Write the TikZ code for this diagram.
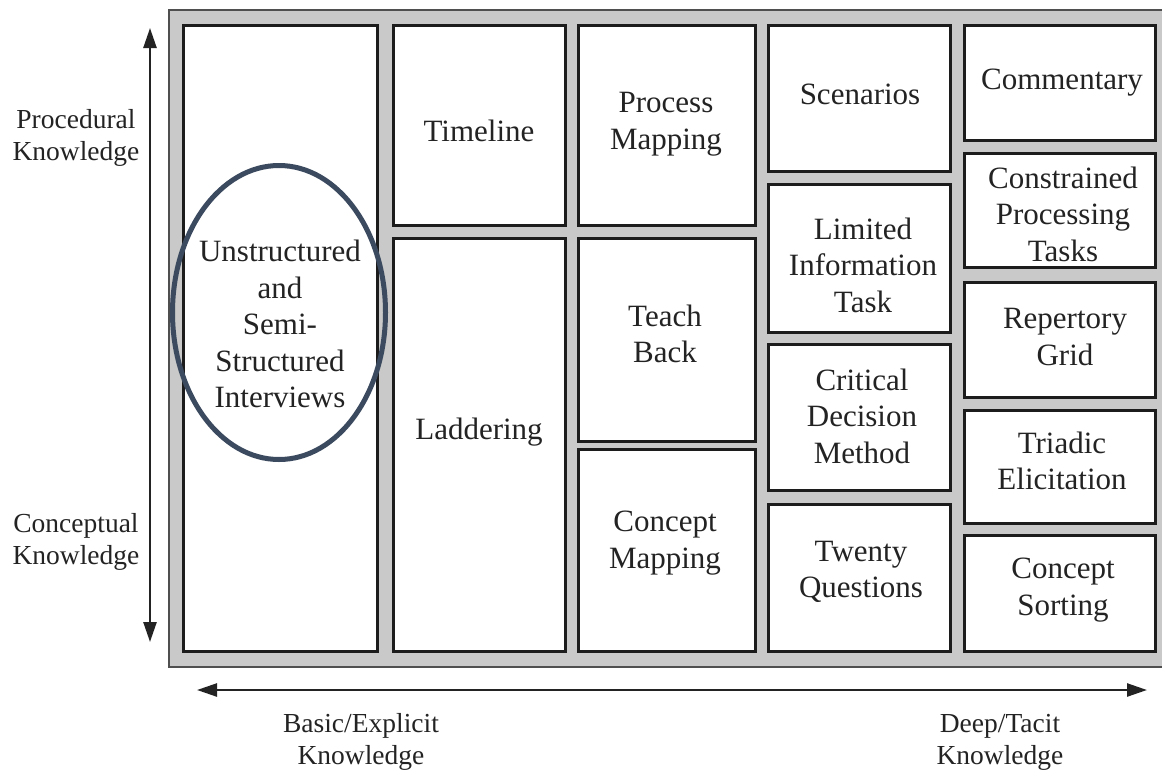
\documentclass[tikz,border=0pt]{standalone}
\usepackage{fontspec}
\setmainfont{Liberation Serif}
\usetikzlibrary{arrows.meta,shapes.geometric}
\definecolor{gbg}{RGB}{200,201,200}
\definecolor{bdr}{RGB}{28,28,28}
\definecolor{ink}{RGB}{35,35,35}
\definecolor{ell}{RGB}{60,74,96}
\tikzset{
  boxst/.style={draw=bdr, line width=3pt, fill=white, inner sep=0pt, rectangle},
  lbl/.style={font=\fontsize{31}{36.5}\selectfont, align=center, text=ink, inner sep=0pt},
  side/.style={font=\fontsize{27.5}{32}\selectfont, align=center, text=ink, inner sep=0pt},
  axis/.style={draw=ink, line width=2.5pt, {Triangle[length=20pt,width=13pt]}-{Triangle[length=20pt,width=13pt]}},
  ring/.style={draw=ell, line width=5pt, ellipse, inner sep=0pt, minimum width=213pt, minimum height=294pt}
}
\newcommand\bx[5]{%
  \node[boxst, minimum width={#4pt-#2pt-3pt}, minimum height={#5pt-#3pt-3pt}] (#1) at ({(#2+#4)/2},{(#3+#5)/2}) {};}
\begin{document}
\begin{tikzpicture}[x=1pt,y=-1pt]
\useasboundingbox (0,0) rectangle (1162,769);
% gray frame
\fill[gbg] (169,10) rectangle (1162,667);
\draw[draw=ink!80, line width=1.5pt] (1162,10) -- (169,10) -- (169,667) -- (1162,667);
% column 1
\bx{c1}{182}{24}{379}{653}
% column 2
\bx{c2a}{392}{24}{567}{227}
\bx{c2b}{392}{237}{567}{653}
% column 3
\bx{c3a}{577}{24}{757}{227}
\bx{c3b}{577}{237}{757}{443}
\bx{c3c}{577}{448}{757}{653}
% column 4
\bx{c4a}{767}{24}{952}{173}
\bx{c4b}{767}{183}{952}{334}
\bx{c4c}{767}{343}{952}{492}
\bx{c4d}{767}{503}{952}{653}
% column 5
\bx{c5a}{963}{24}{1157}{142}
\bx{c5b}{963}{152}{1157}{269}
\bx{c5c}{963}{281}{1157}{399}
\bx{c5d}{963}{409}{1157}{525}
\bx{c5e}{963}{534}{1157}{653}
% labels
\node[lbl] (t1) at (280,324) {Unstructured\\and\\Semi-\\Structured\\Interviews};
\node[lbl] (t2a) at (479,131) {Timeline};
\node[lbl] (t2b) at (479,432) {Laddering};
\node[lbl] (t3a) at (666,124) {Process\\Mapping};
\node[lbl] (t3b) at (665,334) {Teach\\Back};
\node[lbl] (t3c) at (665,543) {Concept\\Mapping};
\node[lbl] (t4a) at (860,94) {Scenarios};
\node[lbl] (t4b) at (863,265) {Limited\\Information\\Task};
\node[lbl] (t4c) at (862,416) {Critical\\Decision\\Method};
\node[lbl] (t4d) at (861,572) {Twenty\\Questions};
\node[lbl] (t5a) at (1062,83) {Commentary};
\node[lbl] (t5b) at (1063,214) {Constrained\\Processing\\Tasks};
\node[lbl] (t5c) at (1065,337) {Repertory\\Grid};
\node[lbl] (t5d) at (1062,461) {Triadic\\Elicitation};
\node[lbl] (t5e) at (1063,590) {Concept\\Sorting};
% ellipse
\node[ring] (ring) at (279,312.5) {};
% axes
\coordinate (vtop) at (150,28);
\coordinate (vbot) at (150,642);
\coordinate (hl) at (197,690);
\coordinate (hr) at (1147,690);
\draw[axis] (vtop) -- (vbot);
\draw[axis] (hl) -- (hr);
% side labels
\node[side] (proc) at (76,138) {Procedural\\Knowledge};
\node[side] (conc) at (76,542) {Conceptual\\Knowledge};
\node[side] (basic) at (361,742) {Basic/Explicit\\Knowledge};
\node[side] (deep) at (1000,742) {Deep/Tacit\\Knowledge};
\end{tikzpicture}
\end{document}
